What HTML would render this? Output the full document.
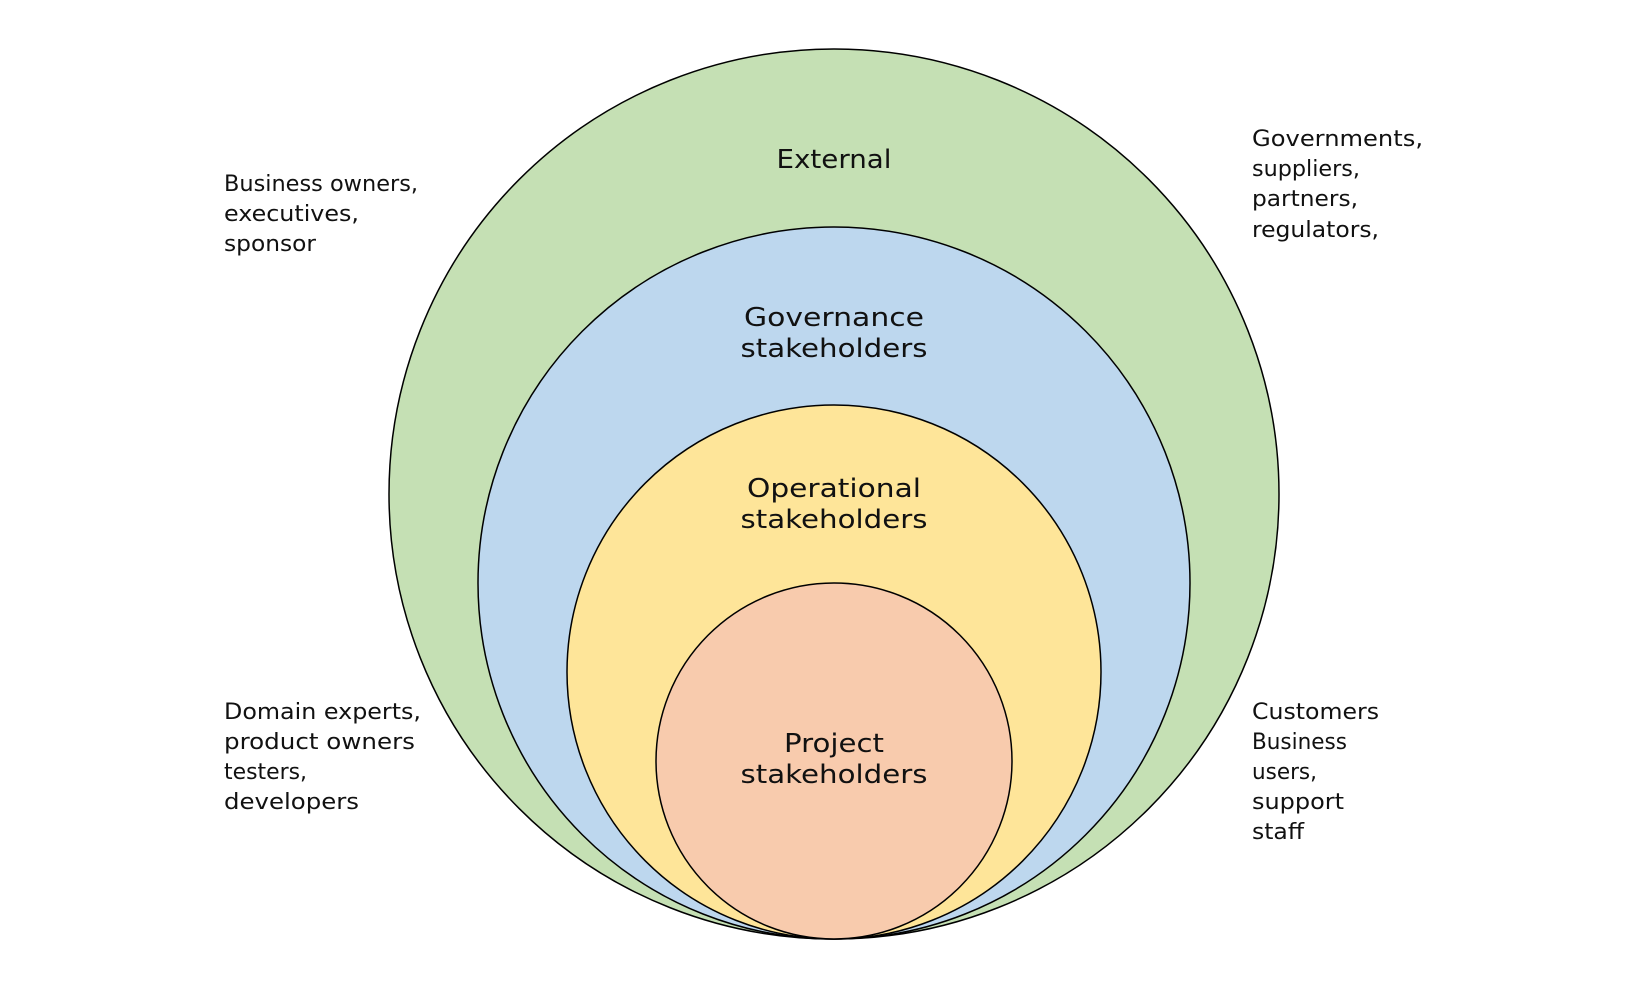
<!DOCTYPE html>
<html><head><meta charset="utf-8"><style>html,body{margin:0;padding:0;background:#fff}svg{display:block}</style></head>
<body>
<svg width="1650" height="989" viewBox="0 0 1650 989" xmlns="http://www.w3.org/2000/svg" font-family="'DejaVu Sans','Liberation Sans',sans-serif">
<circle cx="834" cy="494" r="445" fill="#c5e0b4" stroke="#000" stroke-width="1.5"/>
<circle cx="834" cy="583" r="356" fill="#bdd7ee" stroke="#000" stroke-width="1.5"/>
<circle cx="834" cy="672" r="267" fill="#fee599" stroke="#000" stroke-width="1.5"/>
<circle cx="834" cy="761" r="178" fill="#f8cbad" stroke="#000" stroke-width="1.5"/>
<g font-size="26" text-anchor="middle" fill="#111">
<text x="834" y="168" textLength="115" lengthAdjust="spacingAndGlyphs">External</text>
<text x="834" y="326" textLength="180" lengthAdjust="spacingAndGlyphs">Governance</text>
<text x="834" y="357" textLength="187" lengthAdjust="spacingAndGlyphs">stakeholders</text>
<text x="834" y="497" textLength="174" lengthAdjust="spacingAndGlyphs">Operational</text>
<text x="834" y="528" textLength="187" lengthAdjust="spacingAndGlyphs">stakeholders</text>
<text x="834" y="752" textLength="100" lengthAdjust="spacingAndGlyphs">Project</text>
<text x="834" y="783" textLength="187" lengthAdjust="spacingAndGlyphs">stakeholders</text>
</g>
<g font-size="22" fill="#111">
<text x="224" y="191" textLength="194" lengthAdjust="spacingAndGlyphs">Business owners,</text>
<text x="224" y="221" textLength="135" lengthAdjust="spacingAndGlyphs">executives,</text>
<text x="224" y="251" textLength="92" lengthAdjust="spacingAndGlyphs">sponsor</text>
<text x="1252" y="146" textLength="171" lengthAdjust="spacingAndGlyphs">Governments,</text>
<text x="1252" y="176" textLength="108" lengthAdjust="spacingAndGlyphs">suppliers,</text>
<text x="1252" y="206" textLength="106" lengthAdjust="spacingAndGlyphs">partners,</text>
<text x="1252" y="237" textLength="127" lengthAdjust="spacingAndGlyphs">regulators,</text>
<text x="224" y="719" textLength="197" lengthAdjust="spacingAndGlyphs">Domain experts,</text>
<text x="224" y="749" textLength="191" lengthAdjust="spacingAndGlyphs">product owners</text>
<text x="224" y="779" textLength="83" lengthAdjust="spacingAndGlyphs">testers,</text>
<text x="224" y="809" textLength="135" lengthAdjust="spacingAndGlyphs">developers</text>
<text x="1252" y="719" textLength="127" lengthAdjust="spacingAndGlyphs">Customers</text>
<text x="1252" y="749" textLength="95" lengthAdjust="spacingAndGlyphs">Business</text>
<text x="1252" y="779" textLength="65" lengthAdjust="spacingAndGlyphs">users,</text>
<text x="1252" y="809" textLength="92" lengthAdjust="spacingAndGlyphs">support</text>
<text x="1252" y="839" textLength="52" lengthAdjust="spacingAndGlyphs">staff</text>
</g>
</svg>
</body></html>
